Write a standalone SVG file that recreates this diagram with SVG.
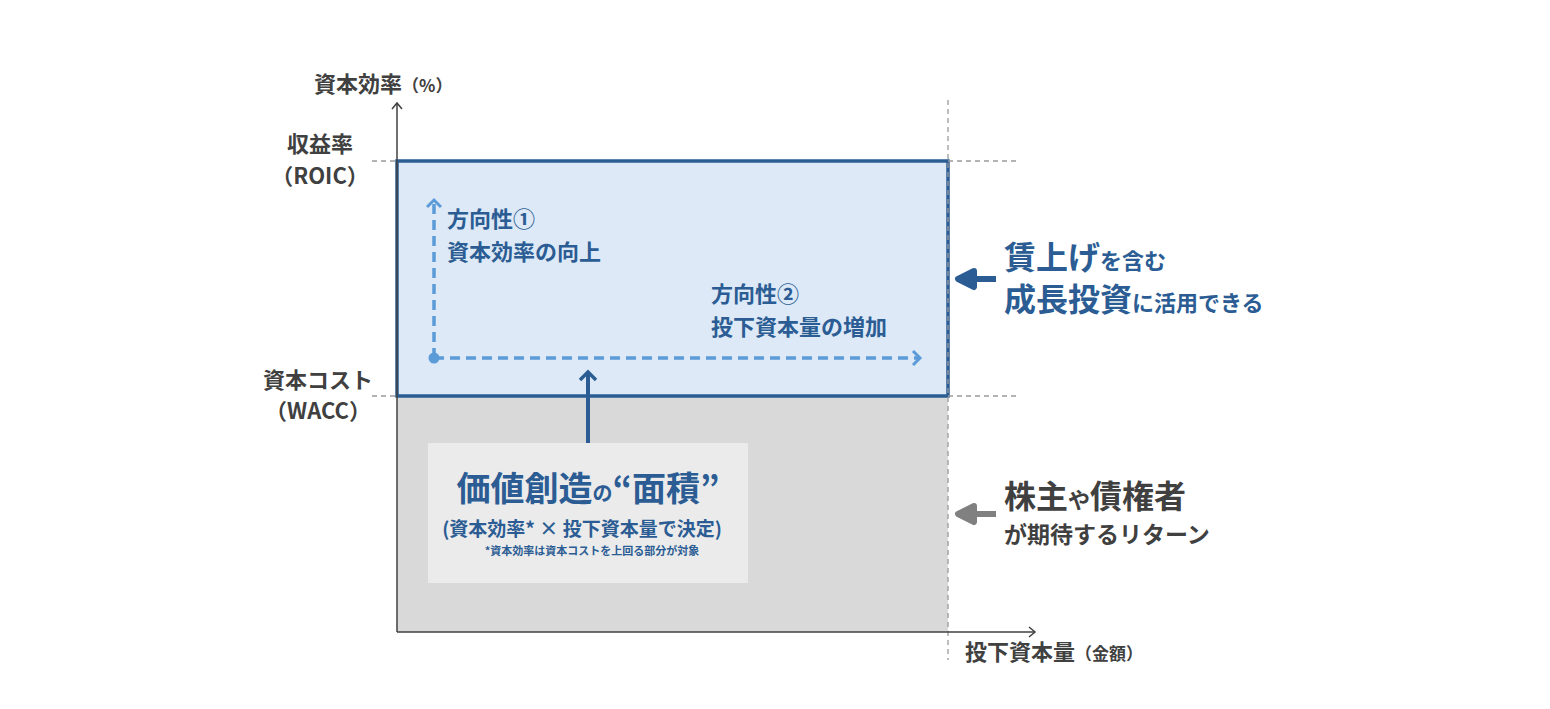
<svg xmlns="http://www.w3.org/2000/svg" width="1550" height="709" viewBox="0 0 1550 709">
<style>
text{font-family:"Noto Sans CJK JP","Noto Sans",sans-serif;font-weight:bold}
.d{fill:#404040}.b{fill:#2b5d94}
.gd{stroke:#9a9a9a;stroke-width:1.3;stroke-dasharray:5 4;fill:none}
.ld{stroke:#5b9bd8;stroke-width:3.5;stroke-dasharray:10 6;fill:none}
</style>
<defs>
<marker id="ax" viewBox="0 0 12 12" refX="6" refY="6" markerWidth="12" markerHeight="12" markerUnits="userSpaceOnUse" orient="auto"><path d="M1,1 L7,6 L1,11" fill="none" stroke="#404040" stroke-width="1.5"/></marker>
<marker id="la" viewBox="0 0 16 16" refX="10" refY="8" markerWidth="16" markerHeight="16" markerUnits="userSpaceOnUse" orient="auto"><path d="M3,1 L10,8 L3,15" fill="none" stroke="#5b9bd8" stroke-width="3"/></marker>
<marker id="ba" viewBox="0 0 18 18" refX="10" refY="9" markerWidth="18" markerHeight="18" markerUnits="userSpaceOnUse" orient="auto"><path d="M2,1 L10,9 L2,17" fill="none" stroke="#2b5d94" stroke-width="3.5"/></marker>
</defs>
<rect width="1550" height="709" fill="#fff"/>
<g id="areas">
<rect x="397" y="396" width="551" height="236" fill="#d9d9d9"/>
<rect x="397" y="161" width="551" height="235" fill="#dde9f6" stroke="#2b5d94" stroke-width="3.5"/>
</g>
<g id="connectors">
<path class="gd" d="M948,100 V660 M372,161 H397 M948,161 H1020 M372,396 H397 M948,396 H1020"/>
<line x1="397" y1="632" x2="397" y2="104" stroke="#404040" stroke-width="1.5" marker-end="url(#ax)"/>
<line x1="397" y1="632" x2="1034" y2="632" stroke="#404040" stroke-width="1.5" marker-end="url(#ax)"/>
<line class="ld" x1="434" y1="358" x2="434" y2="200" marker-end="url(#la)"/>
<line class="ld" x1="434" y1="358" x2="920" y2="358" marker-end="url(#la)"/>
<circle cx="434" cy="358" r="5.5" fill="#5b9bd8"/>
<line x1="588" y1="443" x2="588" y2="372" stroke="#2b5d94" stroke-width="4" marker-end="url(#ba)"/>
<path d="M996,279 H974 V271 L958,279 L974,287 V279" fill="#2b5d94" stroke="#2b5d94" stroke-width="6" stroke-linejoin="round"/>
<path d="M996,514 H974 V506 L958,514 L974,522 V514" fill="#808080" stroke="#808080" stroke-width="6" stroke-linejoin="round"/>
</g>
<g id="axis-labels" class="d">
<text x="314" y="92" font-size="22">資本効率<tspan font-size="17">（%）</tspan></text>
<text x="320" y="152" font-size="22" text-anchor="middle">収益率</text>
<text x="320" y="184" font-size="22" text-anchor="middle">（ROIC）</text>
<text x="318" y="388" font-size="22" text-anchor="middle">資本コスト</text>
<text x="318" y="419" font-size="22" text-anchor="middle">（WACC）</text>
<text x="965" y="660" font-size="22">投下資本量<tspan font-size="17">（金額）</tspan></text>
</g>
<g id="dir1" class="b"><text x="447" y="227" font-size="22">方向性①</text><text x="447" y="260" font-size="22">資本効率の向上</text></g>
<g id="dir2" class="b"><text x="711" y="302" font-size="22">方向性②</text><text x="711" y="335" font-size="22">投下資本量の増加</text></g>
<g id="area-box">
<rect x="428" y="443" width="320" height="140" fill="#ebebeb"/>
<text class="b" x="588" y="501" font-size="34" text-anchor="middle">価値創造<tspan font-size="20">の</tspan>“面積”</text>
<text class="b" x="582" y="536" font-size="19" text-anchor="middle">(資本効率* × 投下資本量で決定)</text>
<text class="b" x="592" y="555" font-size="11" text-anchor="middle">*資本効率は資本コストを上回る部分が対象</text>
</g>
<g id="growth" class="b"><text x="1004" y="269" font-size="32">賃上げ<tspan font-size="22">を含む</tspan></text><text x="1004" y="311" font-size="32">成長投資<tspan font-size="22">に活用できる</tspan></text></g>
<g id="holders" class="d"><text x="1004" y="508" font-size="32">株主<tspan font-size="22">や</tspan>債権者</text><text x="1004" y="543" font-size="23">が期待するリターン</text></g>
</svg>
